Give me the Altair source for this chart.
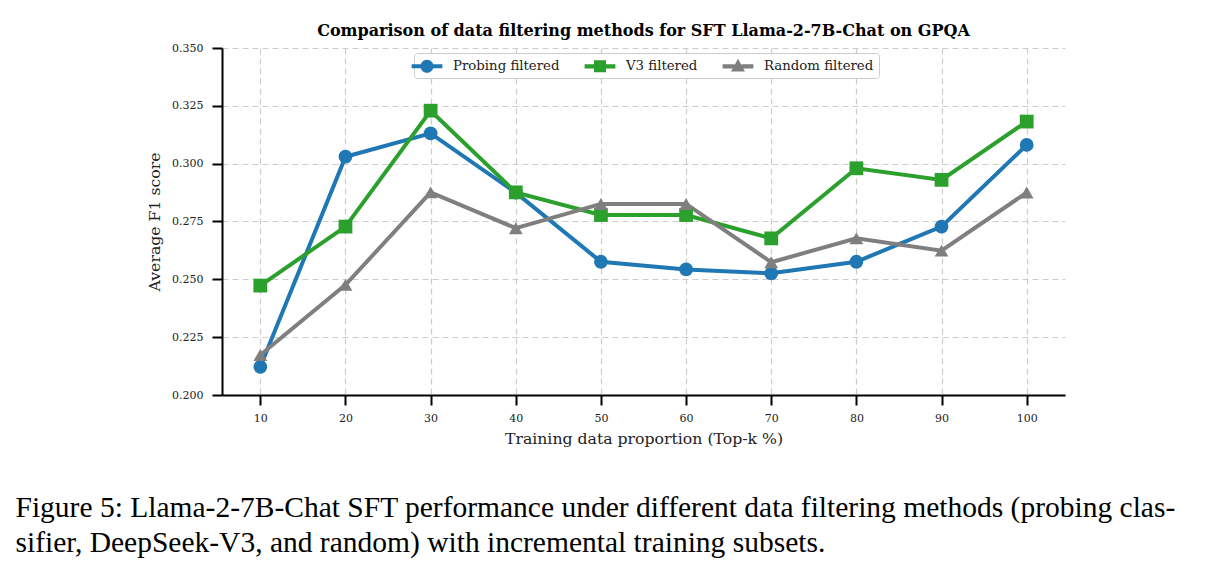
import altair as alt
import pandas as pd

# Training data proportion (Top-k %)
proportions = [10, 20, 30, 40, 50, 60, 70, 80, 90, 100]

# Average F1 score per filtering method
probing_filtered = [0.2122, 0.3030, 0.3131, 0.2875, 0.2576, 0.2543, 0.2526, 0.2576, 0.2728, 0.3081]
v3_filtered = [0.2473, 0.2728, 0.3229, 0.2876, 0.2778, 0.2778, 0.2677, 0.2980, 0.2930, 0.3182]
random_filtered = [0.2173, 0.2476, 0.2876, 0.2721, 0.2826, 0.2826, 0.2574, 0.2677, 0.2624, 0.2875]

methods = ["Probing filtered", "V3 filtered", "Random filtered"]
colors = ["#1f77b4", "#2ca02c", "#7f7f7f"]
shapes = ["circle", "square", "triangle-up"]

y_ticks = [0.200, 0.225, 0.250, 0.275, 0.300, 0.325, 0.350]

caption = [
    "Figure 5: Llama-2-7B-Chat SFT performance under different data filtering methods (probing clas-",
    "sifier, DeepSeek-V3, and random) with incremental training subsets.",
]

rows = []
for name, series in zip(methods, [probing_filtered, v3_filtered, random_filtered]):
    for k, v in zip(proportions, series):
        rows.append({"k": k, "score": v, "method": name})
df = pd.DataFrame(rows)

# Legend glyphs: a short line segment on both sides of the marker
_line = "M-2.2,-0.29H-0.5V0.29H-2.2Z M0.5,-0.29H2.2V0.29H0.5Z "
legend_paths = [
    _line + "M-0.93,0A0.93,0.93 0 1,1 0.93,0A0.93,0.93 0 1,1 -0.93,0Z",
    _line + "M-0.86,-0.86H0.86V0.86H-0.86Z",
    _line + "M0,-1.1L1.0,0.75L-1.0,0.75Z",
]

FONT = "DejaVu Serif"

x_enc = alt.X(
    "k:Q",
    title="Training data proportion (Top-k %)",
    scale=alt.Scale(domain=[5.5, 104.5], nice=False, zero=False),
    axis=alt.Axis(values=proportions, format="d", labelAngle=0, titlePadding=8),
)
y_enc = alt.Y(
    "score:Q",
    title="Average F1 score",
    scale=alt.Scale(domain=[0.2, 0.35], nice=False, zero=False),
    axis=alt.Axis(values=y_ticks, format=".3f", labelPadding=9, titlePadding=9),
)
color_scale = alt.Scale(domain=methods, range=colors)

legend_style = alt.Legend(
    title=None,
    orient="none",
    legendX=192,
    legendY=5,
    direction="horizontal",
    symbolSize=196,
    labelFont=FONT,
    labelFontSize=13.3,
    labelColor="#222222",
    labelOffset=18,
    columnPadding=24,
    padding=5,
    strokeColor="#cccccc",
    fillColor="white",
    cornerRadius=3,
)

lines = alt.Chart(df).mark_line(strokeWidth=4).encode(
    x=x_enc,
    y=y_enc,
    color=alt.Color("method:N", scale=color_scale, legend=None),
    order=alt.Order("k:Q"),
)

points = alt.Chart(df).mark_point(filled=True, opacity=1, size=190).encode(
    x=x_enc,
    y=y_enc,
    color=alt.Color("method:N", scale=color_scale, legend=None),
    shape=alt.Shape("method:N", scale=alt.Scale(domain=methods, range=shapes), legend=None),
)

# Draws nothing itself; it only carries the legend with line-and-marker glyphs
legend_layer = (
    alt.Chart(df)
    .transform_filter("false")
    .mark_point(filled=True, opacity=1)
    .encode(
        x=x_enc,
        y=y_enc,
        color=alt.Color("method:N", scale=alt.Scale(domain=methods, range=colors), legend=legend_style),
        shape=alt.Shape("method:N", scale=alt.Scale(domain=methods, range=legend_paths), legend=legend_style),
    )
)

chart = (
    alt.layer(lines, points, legend_layer)
    .resolve_scale(shape="independent", color="independent")
    .properties(
        width=843,
        height=347,
        title=alt.TitleParams(
            "Comparison of data filtering methods for SFT Llama-2-7B-Chat on GPQA",
            font=FONT,
            fontSize=16,
            fontWeight="bold",
            color="black",
            offset=3,
        ),
    )
)

page = (
    alt.vconcat(chart)
    .properties(
        title=alt.TitleParams(
            caption,
            orient="bottom",
            anchor="start",
            frame="bounds",
            font="Liberation Serif",
            fontSize=29.5,
            fontWeight="normal",
            lineHeight=35,
            color="black",
            offset=48,
            dx=-131,
        ),
        padding={"left": 15, "top": 23, "right": 5, "bottom": 10},
    )
    .configure_view(stroke=None)
    .configure_axis(
        labelFont=FONT,
        labelFontSize=11,
        labelColor="#222222",
        titleFont=FONT,
        titleFontSize=15.7,
        titleFontWeight="normal",
        titleColor="#222222",
        domainColor="black",
        domainWidth=2,
        tickColor="black",
        tickWidth=2,
        tickSize=10,
        labelPadding=7,
        grid=True,
        gridColor="#cccccc",
        gridDash=[6, 4],
        gridWidth=1.2,
    )
)

page.save("out.html", embed_options={"renderer": "svg", "actions": False})
